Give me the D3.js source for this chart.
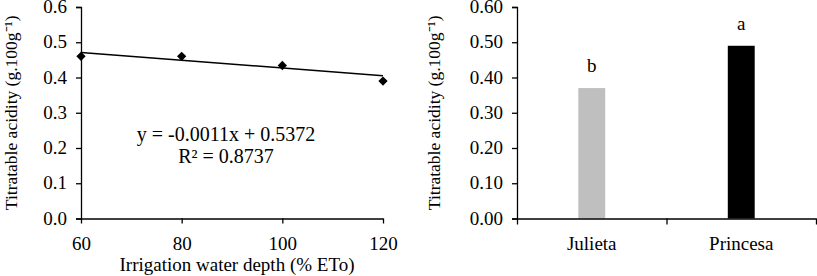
<!DOCTYPE html>
<html>
<head>
<meta charset="utf-8">
<script src="https://cdn.jsdelivr.net/npm/d3@7"></script>
<style>
  body { margin: 0; background: #fff; }
  svg text { font-family: "Liberation Serif", "Times New Roman", serif; fill: #000; }
  .axis path, .axis line { stroke: #000; stroke-width: 1.3px; }
  .axis text { font-size: 19px; }
</style>
</head>
<body>
<div id="graphic"></div>
<script>
// left panel: titratable acidity vs irrigation depth
const depth = [60, 80, 100, 120];
const acidity = [0.46, 0.46, 0.434, 0.39];
const slope = -0.0011, intercept = 0.5372;
const eqText = ["y = -0.0011x + 0.5372", "R² = 0.8737"];
const leftYTicks = [0, 0.1, 0.2, 0.3, 0.4, 0.5, 0.6];
const leftXTicks = [60, 80, 100, 120];

// right panel: cultivars
const cultivars = ["Julieta", "Princesa"];
const cultivarValues = [0.37, 0.49];
const cultivarLetters = ["b", "a"];
const cultivarColours = ["#bfbfbf", "#000000"];
const rightYTicks = [0, 0.1, 0.2, 0.3, 0.4, 0.5, 0.6];

const yTitle = "Titratable acidity (g.100g⁻¹)";

const svg = d3.select('#graphic').append('svg')
  .attr('width', 817).attr('height', 276);

const plotTop = 7, plotBottom = 218.5;

// ---- left chart
const xL = d3.scaleLinear().domain([60, 120]).range([81, 383]);
const yL = d3.scaleLinear().domain([0, 0.6]).range([plotBottom, plotTop]);

svg.append('g').attr('class', 'axis')
  .attr('transform', 'translate(81,0)')
  .call(d3.axisLeft(yL).tickValues(leftYTicks).tickFormat(d3.format('.1f')).tickSize(5).tickPadding(9))
  .call(g => g.selectAll('text').attr('dy', '0.3em'));

svg.append('g').attr('class', 'axis')
  .attr('transform', 'translate(0,' + plotBottom + ')')
  .call(d3.axisBottom(xL).tickValues(leftXTicks).tickSizeInner(5).tickSizeOuter(0).tickPadding(13));

// trend line
svg.append('path')
  .attr('d', d3.line().x(d => xL(d)).y(d => yL(slope * d + intercept))([60, 120]))
  .attr('stroke', '#000').attr('stroke-width', 1.5).attr('fill', 'none');

// diamonds
svg.append('g').selectAll('path')
  .data(depth)
  .join('path')
  .attr('transform', (d, i) => 'translate(' + xL(d) + ',' + yL(acidity[i]) + ')')
  .attr('d', d3.symbol(d3.symbolDiamond2, 55))
  .attr('fill', '#000');

svg.append('g').selectAll('text')
  .data(eqText)
  .join('text')
  .attr('x', 226)
  .attr('y', (d, i) => 141 + i * 22)
  .attr('text-anchor', 'middle')
  .style('font-size', '20px')
  .text(d => d);

svg.append('text')
  .attr('x', 237).attr('y', 271)
  .attr('text-anchor', 'middle')
  .style('font-size', '19px')
  .text('Irrigation water depth (% ETo)');

svg.append('text')
  .attr('transform', 'translate(17,' + (plotTop + plotBottom) / 2 + ') rotate(-90)')
  .attr('text-anchor', 'middle')
  .style('font-size', '17.5px')
  .text(yTitle);

// ---- right chart
const xR = d3.scaleBand().domain(cultivars).range([517, 816]).paddingInner(0.82).paddingOuter(0.41);
const yR = d3.scaleLinear().domain([0, 0.6]).range([plotBottom, plotTop]);

svg.append('g').attr('class', 'axis')
  .attr('transform', 'translate(517,0)')
  .call(d3.axisLeft(yR).tickValues(rightYTicks).tickFormat(d3.format('.2f')).tickSize(5).tickPadding(9))
  .call(g => g.selectAll('text').attr('dy', '0.3em'));

svg.append('g').selectAll('rect')
  .data(cultivars)
  .join('rect')
  .attr('x', d => xR(d))
  .attr('width', xR.bandwidth())
  .attr('y', (d, i) => yR(cultivarValues[i]))
  .attr('height', (d, i) => plotBottom - yR(cultivarValues[i]))
  .attr('fill', (d, i) => cultivarColours[i]);

// category axis with ticks at band edges
const xEdge = d3.scaleLinear().domain([0, cultivars.length]).range([517, 816]);
svg.append('g').attr('class', 'axis')
  .attr('transform', 'translate(0,' + plotBottom + ')')
  .call(d3.axisBottom(xEdge).tickValues(d3.range(cultivars.length + 1)).tickFormat('').tickSizeInner(6).tickSizeOuter(0));

svg.append('g').selectAll('text.cat')
  .data(cultivars)
  .join('text')
  .attr('class', 'cat')
  .attr('x', d => xR(d) + xR.bandwidth() / 2)
  .attr('y', 250)
  .attr('text-anchor', 'middle')
  .style('font-size', '19px')
  .text(d => d);

svg.append('g').selectAll('text.letter')
  .data(cultivars)
  .join('text')
  .attr('class', 'letter')
  .attr('x', d => xR(d) + xR.bandwidth() / 2)
  .attr('y', (d, i) => yR(cultivarValues[i]) - 16)
  .attr('text-anchor', 'middle')
  .style('font-size', '19px')
  .text((d, i) => cultivarLetters[i]);

svg.append('text')
  .attr('transform', 'translate(440,' + (plotTop + plotBottom) / 2 + ') rotate(-90)')
  .attr('text-anchor', 'middle')
  .style('font-size', '17.5px')
  .text(yTitle);
</script>
</body>
</html>
